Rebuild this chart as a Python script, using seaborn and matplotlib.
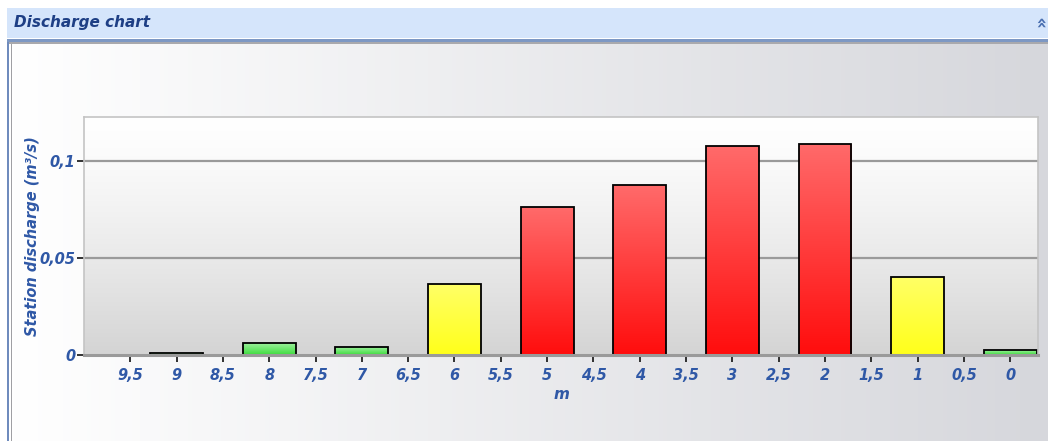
import numpy as np
import pandas as pd
import matplotlib
matplotlib.use("Agg")
import matplotlib.pyplot as plt
from matplotlib.patches import Rectangle
from matplotlib.colors import to_rgb
import seaborn as sns

# Station discharge per distance (m)
stations = [9, 8, 7, 6, 5, 4, 3, 2, 1, 0]
discharge = [0.001, 0.006, 0.004, 0.0365, 0.0763, 0.0876, 0.1077, 0.1088, 0.0402, 0.0025]
level = ["low", "low", "low", "mid", "high", "high", "high", "high", "mid", "low"]
tick_values = [9.5, 9, 8.5, 8, 7.5, 7, 6.5, 6, 5.5, 5, 4.5, 4, 3.5, 3, 2.5, 2, 1.5, 1, 0.5, 0]
tick_labels = ["9,5", "9", "8,5", "8", "7,5", "7", "6,5", "6", "5,5", "5",
               "4,5", "4", "3,5", "3", "2,5", "2", "1,5", "1", "0,5", "0"]
y_ticks = [0, 0.05, 0.1]
y_labels = ["0", "0,05", "0,1"]

palette = {"low": "#3ddc3d", "mid": "#ffff1a", "high": "#ff0d0d"}
top_tint = {"low": "#9cf09c", "mid": "#ffff66", "high": "#ff6a6a"}

sns.set_theme(style="white")
plt.rcParams["font.family"] = ["DejaVu Sans"]

W, H = 1048, 441
fig = plt.figure(figsize=(W / 100, H / 100), dpi=100)
fig.patch.set_facecolor("white")


def fx(px):
    return px / W


def fy(py):
    return 1 - py / H


# panel body: horizontal white-to-grey wash
bg = fig.add_axes([0, 0, 1, 1], zorder=-10)
bg.set_axis_off()
grad = np.linspace(0, 1, 256)[None, :, None]
c0 = np.array(to_rgb("#ffffff"))
c1 = np.array(to_rgb("#d6d7dc"))
bg.imshow(c0 + (c1 - c0) * grad, extent=[fx(10), 1, 0, fy(43)], aspect="auto",
          transform=bg.transAxes)
bg.set_xlim(0, 1)
bg.set_ylim(0, 1)

# panel header
fig.patches.append(Rectangle((fx(7), fy(38)), 1 - fx(7), fy(8) - fy(38),
                             transform=fig.transFigure, facecolor="#d5e5fb",
                             edgecolor="none", zorder=-5))
fig.patches.append(Rectangle((fx(7), fy(41.5)), 1 - fx(7), fy(39) - fy(41.5),
                             transform=fig.transFigure, facecolor="#7d98c4",
                             edgecolor="none", zorder=-5))
fig.patches.append(Rectangle((fx(7), fy(44)), 1 - fx(7), fy(42) - fy(44),
                             transform=fig.transFigure, facecolor="#a9a9ad",
                             edgecolor="none", zorder=-5))
# left frame lines
fig.patches.append(Rectangle((fx(7), 0), fx(1.5), fy(42),
                             transform=fig.transFigure, facecolor="#6f8bbd",
                             edgecolor="none", zorder=-5))
fig.patches.append(Rectangle((fx(10.5), 0), fx(1.5), fy(44),
                             transform=fig.transFigure, facecolor="#a0a0a4",
                             edgecolor="none", zorder=-5))
fig.text(fx(14), fy(22), "Discharge chart", fontsize=11, fontweight="bold",
         fontstyle="italic", color="#1e3f85", va="center", ha="left")
fig.text(fx(1041), fy(21), "»", rotation=90, fontsize=13, fontweight="bold",
         color="#4a6fb0", va="center", ha="center")

# chart area
ax = fig.add_axes([fx(84), fy(355), fx(1038) - fx(84), fy(117) - fy(355)])
ax.patch.set_alpha(0)

df = pd.DataFrame({"m": stations, "q": discharge, "level": level})
sns.barplot(data=df, x="m", y="q", hue="level", palette=palette, dodge=False,
            native_scale=True, width=0.57, legend=False, ax=ax,
            edgecolor="black", linewidth=1.3, saturation=1)

# plot background: white at top fading to light grey
vg = np.linspace(0, 1, 256)[:, None, None]
p0 = np.array(to_rgb("#ffffff"))
p1 = np.array(to_rgb("#d4d4d4"))
ax.imshow(p0 + (p1 - p0) * vg ** 1.3, extent=[0, 1, 0, 1], origin="upper",
          aspect="auto", transform=ax.transAxes, zorder=0)

# shaded fill for each bar, clipped to the bar outline
fill_by_color = {tuple(np.round(to_rgb(v), 3)): k for k, v in palette.items()}
for patch in list(ax.patches):
    key = fill_by_color.get(tuple(np.round(patch.get_facecolor()[:3], 3)))
    if key is None:
        continue
    x0, y0 = patch.get_x(), patch.get_y()
    w, h = patch.get_width(), patch.get_height()
    t = np.array(to_rgb(top_tint[key]))
    b = np.array(to_rgb(palette[key]))
    img = t + (b - t) * np.linspace(0, 1, 128)[:, None, None]
    im = ax.imshow(img, extent=[x0, x0 + w, y0, y0 + h], aspect="auto",
                   origin="upper", zorder=2.2)
    im.set_clip_path(patch)
    patch.set_facecolor("none")
    patch.set_zorder(2.5)

ax.set_xlim(10.0, -0.3)
ax.set_ylim(0, 0.1227)

ax.set_yticks(y_ticks)
ax.set_yticklabels(y_labels)
ax.set_xticks(tick_values)
ax.set_xticklabels(tick_labels)

for yv in y_ticks[1:]:
    ax.axhline(yv, color="#9a9a9a", linewidth=1.6, zorder=1)

tick_font = dict(fontsize=10.5, fontweight="bold", fontstyle="italic", color="#2f58a6")
for lab in ax.get_xticklabels() + ax.get_yticklabels():
    lab.set(**tick_font)
ax.tick_params(axis="both", direction="out", length=5, width=1.3, color="#222222",
               bottom=True, left=True)
ax.tick_params(axis="x", pad=4)
ax.tick_params(axis="y", pad=1)

ax.set_xlabel("m", fontsize=11, fontweight="bold", fontstyle="italic",
              color="#2f58a6", labelpad=3)
ax.set_ylabel("Station discharge (m³/s)", fontsize=10.5, fontweight="bold",
              fontstyle="italic", color="#2f58a6", labelpad=0)

for side in ["top", "right", "left"]:
    ax.spines[side].set_color("#c4c4c4")
    ax.spines[side].set_linewidth(1.2)
ax.spines["bottom"].set_color("#9a9a9a")
ax.spines["bottom"].set_linewidth(2.2)

fig.savefig("out.png", dpi=100)
